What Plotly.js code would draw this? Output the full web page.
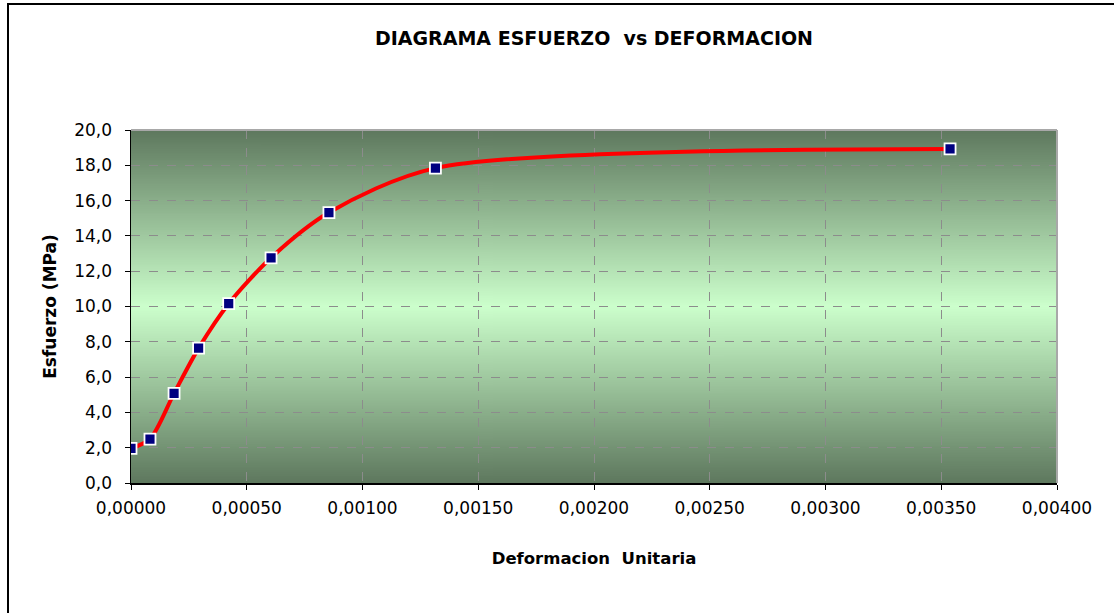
<!DOCTYPE html>
<html>
<head>
<meta charset="utf-8">
<script src="https://cdn.plot.ly/plotly-3.0.1.min.js"></script>
<style>
  html, body { margin: 0; padding: 0; background: #fff; }
  #wrap { position: relative; width: 1114px; height: 613px; overflow: hidden; }
  #chart { width: 1114px; height: 613px; }
  #frame { position: absolute; left: 7px; top: 3px; width: 1200px; height: 700px;
           border-left: 2px solid #000; border-top: 2px solid #000; pointer-events: none; }
</style>
</head>
<body>
<div id="wrap">
  <div id="chart"></div>
  <div id="frame"></div>
</div>
<script>
const deformacion = [0.00000, 0.000082, 0.000186, 0.000292, 0.000422, 0.000605, 0.000855, 0.001315, 0.003538];
const esfuerzo    = [1.96, 2.49, 5.08, 7.64, 10.16, 12.76, 15.32, 17.84, 18.93];
const chartTitle = 'DIAGRAMA ESFUERZO  vs DEFORMACION';
const xTitle = 'Deformacion  Unitaria';
const yTitle = 'Esfuerzo (MPa)';

// gradient background image for plot area
const cv = document.createElement('canvas');
cv.width = 4; cv.height = 400;
const ctx = cv.getContext('2d');
const g = ctx.createLinearGradient(0, 0, 0, 400);
g.addColorStop(0, '#5e785e');
g.addColorStop(0.5, '#ccffcc');
g.addColorStop(1, '#5e785e');
ctx.fillStyle = g;
ctx.fillRect(0, 0, 4, 400);
const bg = cv.toDataURL('image/png');

const font = 'DejaVu Sans, Liberation Sans, Arial, sans-serif';

const trace = {
  x: deformacion,
  y: esfuerzo,
  type: 'scatter',
  mode: 'lines+markers',
  line: { color: '#ff0000', width: 4, shape: 'spline', smoothing: 0.8 },
  marker: { symbol: 'square', size: 11, color: '#000080', line: { color: '#ffffff', width: 1.8 } },
  hoverinfo: 'x+y'
};

const layout = {
  width: 1114, height: 613,
  margin: { l: 131, r: 57, t: 130, b: 130 },
  paper_bgcolor: '#ffffff',
  plot_bgcolor: 'rgba(0,0,0,0)',
  separators: ',.',
  showlegend: false,
  title: { text: '<b>' + chartTitle + '</b>', font: { family: font, size: 19, color: '#000' },
           x: 0.5, xref: 'paper', y: 1 - 38/613, yref: 'container', yanchor: 'middle' },
  xaxis: {
    range: [0, 0.004], dtick: 0.0005, tick0: 0, tickformat: '.5f',
    showgrid: true, gridcolor: '#8c8c8c', griddash: 'dash', gridwidth: 1,
    showline: true, linecolor: '#000', linewidth: 1.5,
    ticks: 'outside', ticklen: 5, tickcolor: '#000', ticklabelstandoff: 4,
    tickfont: { family: font, size: 17, color: '#000' },
    zeroline: false, automargin: false,
    title: { text: '<b>' + xTitle + '</b>', font: { family: font, size: 16.5, color: '#000' }, standoff: 35 }
  },
  yaxis: {
    range: [0, 20], dtick: 2, tick0: 0, tickformat: '.1f',
    showgrid: true, gridcolor: '#8c8c8c', griddash: 'dash', gridwidth: 1,
    showline: true, linecolor: '#000', linewidth: 1.5,
    ticks: 'outside', ticklen: 5, tickcolor: '#000', ticklabelstandoff: 9,
    tickfont: { family: font, size: 17, color: '#000' },
    zeroline: false, automargin: false,
    title: { text: '<b>' + yTitle + '</b>', font: { family: font, size: 17, color: '#000' }, standoff: 13 }
  },
  images: [{ source: bg, xref: 'paper', yref: 'paper', x: 0, y: 1, sizex: 1, sizey: 1,
             sizing: 'stretch', layer: 'below', xanchor: 'left', yanchor: 'top' }],
  shapes: [
    { type: 'line', xref: 'paper', yref: 'paper', x0: 0, x1: 1, y0: 1, y1: 1, line: { color: '#a8a8a8', width: 2 } },
    { type: 'line', xref: 'paper', yref: 'paper', x0: 1, x1: 1, y0: 0, y1: 1, line: { color: '#a8a8a8', width: 2 } }
  ]
};

Plotly.newPlot('chart', [trace], layout, { displayModeBar: false, staticPlot: true });
</script>
</body>
</html>
